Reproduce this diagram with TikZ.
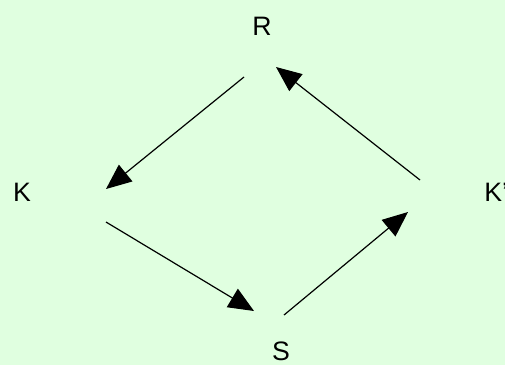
\documentclass[tikz,border=0pt]{standalone}
\usepackage{fontspec}
\setmainfont{Liberation Sans}
\usetikzlibrary{arrows.meta}
\definecolor{bg}{RGB}{224,255,224}
\begin{document}
\begin{tikzpicture}[x=0.75pt,y=-0.75pt,
  lbl/.style={font=\fontsize{20}{24}\selectfont, inner sep=0pt},
  conn/.style={line width=0.9pt, -{Triangle[length=19pt,width=16pt]}}]
\fill[bg] (0,0) rectangle (505,365);
\useasboundingbox (0,0) rectangle (505,365);
\node[lbl] (R) at (262,26) {R};
\node[lbl] (K) at (22,192) {K};
\node[lbl,anchor=west] (Kp) at (484,192) {K'};
\node[lbl] (S) at (281,351) {S};
\coordinate (a1) at (244,77);  \coordinate (a2) at (106,189);
\coordinate (b1) at (106,222); \coordinate (b2) at (254,311);
\coordinate (c1) at (284,315); \coordinate (c2) at (408,212);
\coordinate (d1) at (420,180); \coordinate (d2) at (276,67);
\draw[conn] (a1) -- (a2);
\draw[conn] (b1) -- (b2);
\draw[conn] (c1) -- (c2);
\draw[conn] (d1) -- (d2);
\end{tikzpicture}
\end{document}
